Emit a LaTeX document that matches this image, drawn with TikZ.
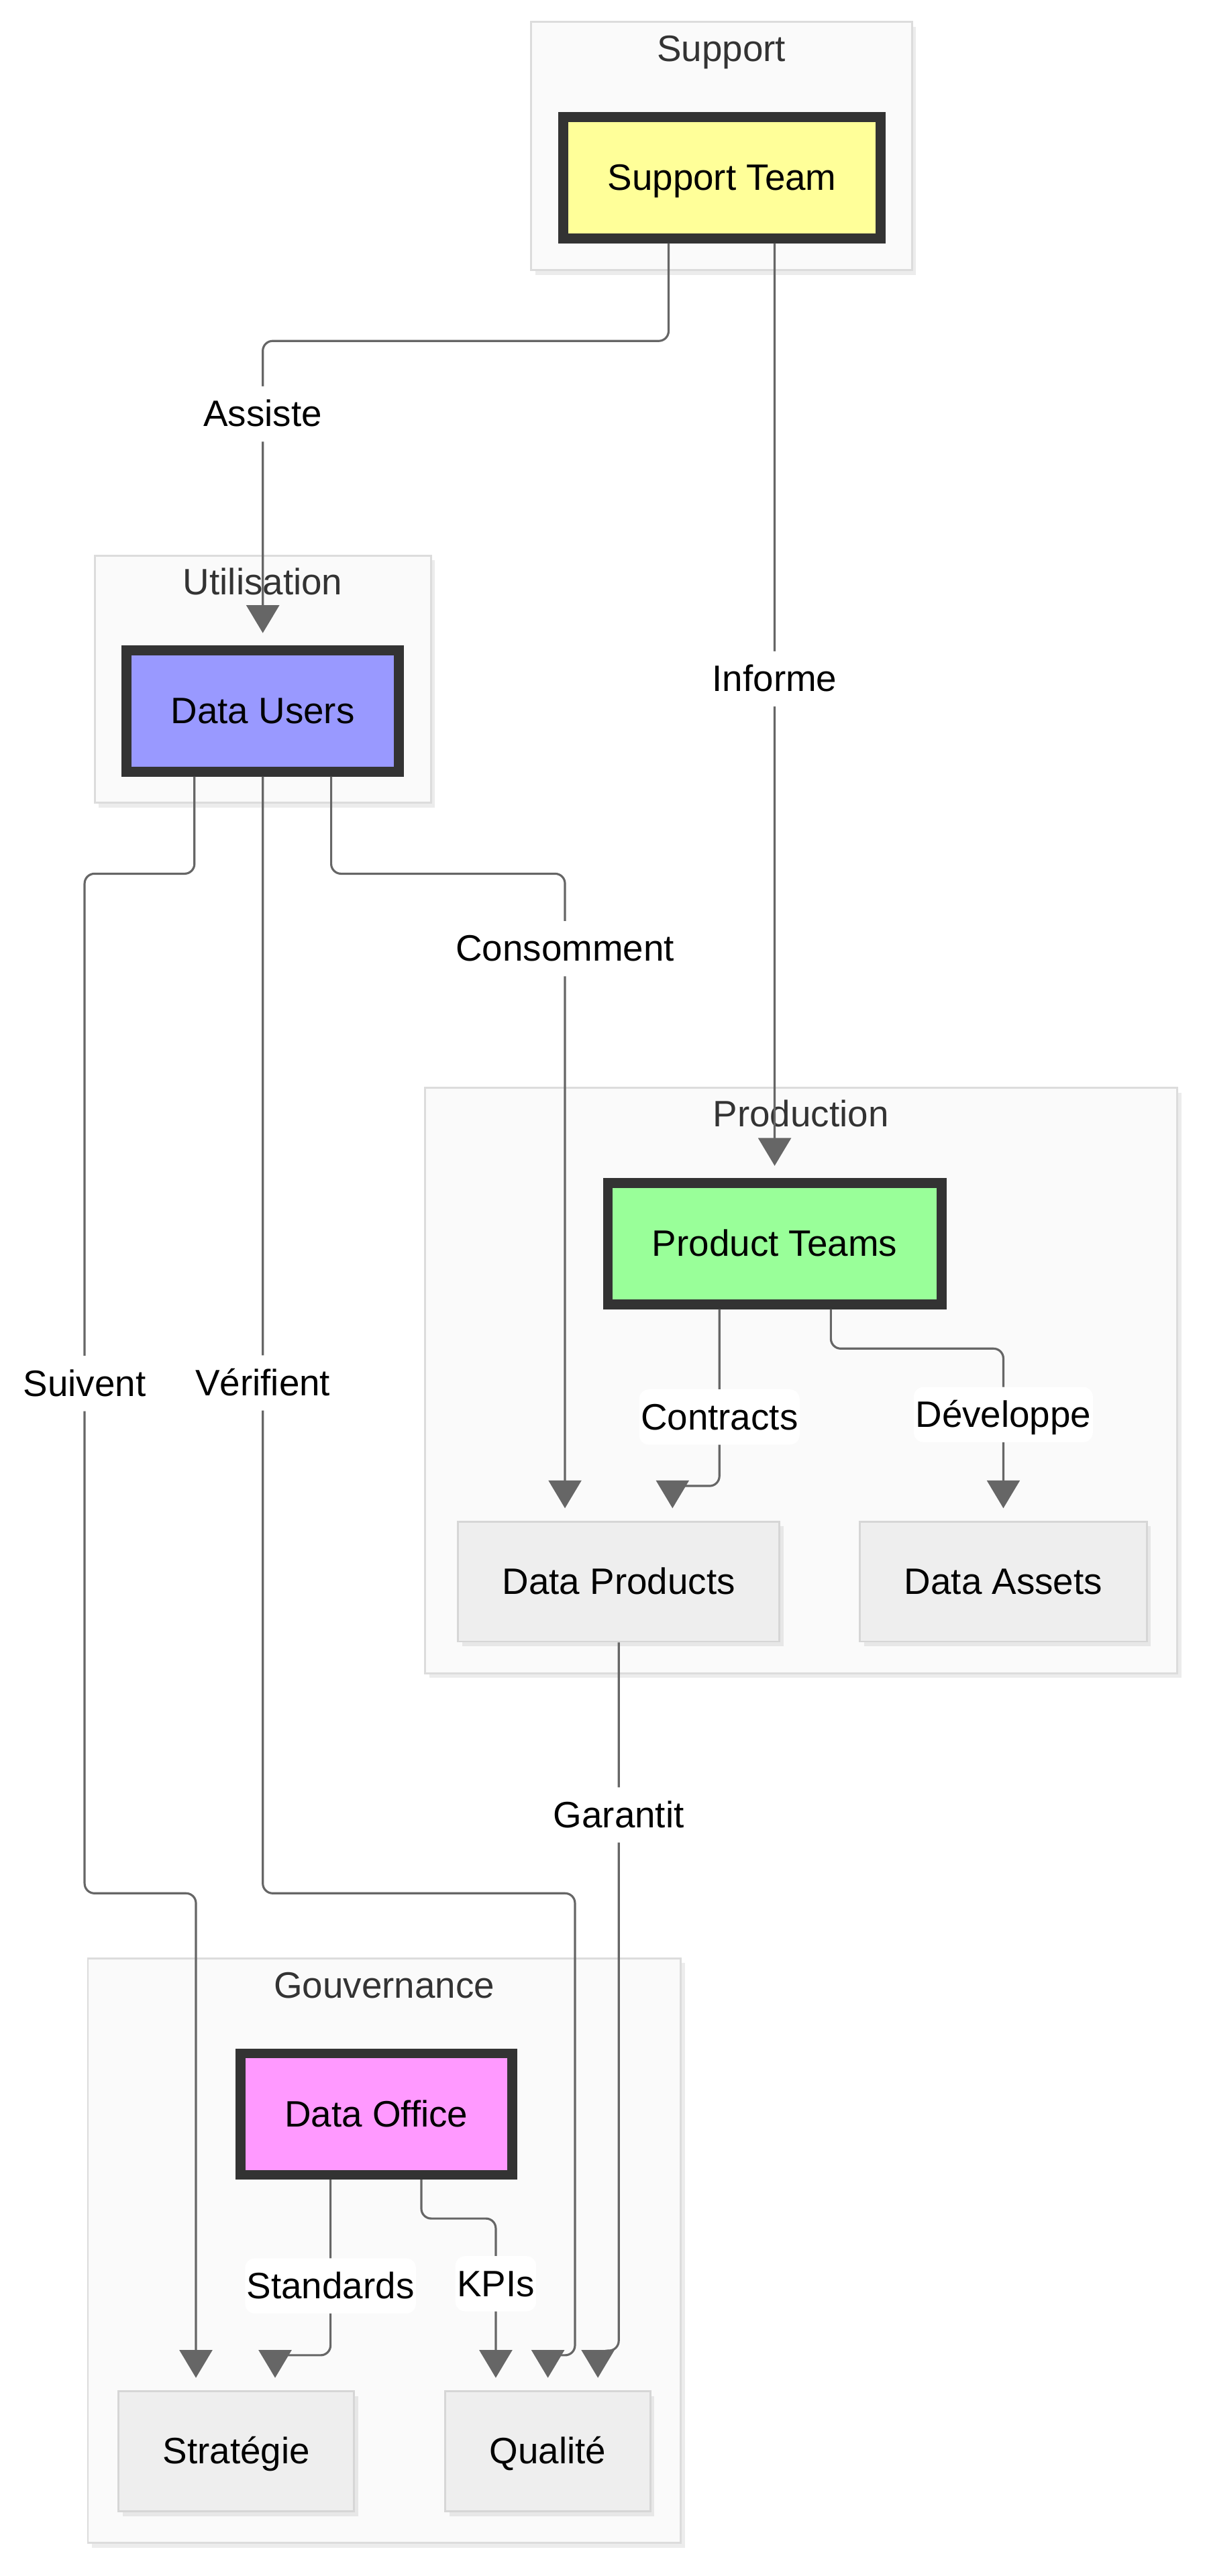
\documentclass[tikz,border=0pt]{standalone}
\usepackage{fontspec}
\setmainfont{Liberation Sans}
\usepackage{tikz}
\usetikzlibrary{calc,arrows.meta,shadows,positioning}

\definecolor{groupfill}{HTML}{FAFAFA}
\definecolor{groupline}{HTML}{DCDCDC}
\definecolor{titlegray}{HTML}{333333}
\definecolor{teamline}{HTML}{333333}
\definecolor{thingfill}{HTML}{EEEEEE}
\definecolor{thingline}{HTML}{D6D6D6}
\definecolor{flowgray}{HTML}{666666}
\definecolor{supyellow}{HTML}{FFFF99}
\definecolor{userblue}{HTML}{9999FF}
\definecolor{prodgreen}{HTML}{99FF99}
\definecolor{officepink}{HTML}{FF99FF}

\begin{document}
\begin{tikzpicture}[x=1bp,y=-1bp,>={Triangle[length=17bp,width=20bp]},
	every node/.style={font=\fontsize{22.5}{27}\selectfont},
	softshadow/.style={drop shadow={opacity=0.15,shadow xshift=2.5bp,shadow yshift=-3bp}},
	group/.style={draw=groupline,fill=groupfill,line width=1.2bp,inner sep=0pt,softshadow},
	grouptitle/.style={text=titlegray,inner sep=0pt,text height=18bp,text depth=2.7bp},
	team/.style={draw=teamline,line width=6bp,inner xsep=27bp,inner ysep=0pt,minimum height=74bp,text height=18bp,text depth=2.7bp,softshadow},
	thing/.style={draw=thingline,fill=thingfill,line width=1.2bp,inner xsep=27bp,inner ysep=0pt,minimum height=73.2bp,text height=18bp,text depth=2.7bp,softshadow},
	flow/.style={->,draw=flowgray,line width=1.3bp,rounded corners=6bp,shorten >=7.5bp},
	lbl/.style={fill=white,inner xsep=1bp,inner ysep=6.5bp,text height=18bp,text depth=2.7bp}]
	\useasboundingbox (0,0) rectangle (735,1571.5);

	\node (gsupport) at (440.15,88.95)  [group,minimum width=232.3bp,minimum height=151.5bp] {};
	\node (guse)     at (160.3,414.3)   [group,minimum width=205bp,minimum height=150.8bp] {};
	\node (gprod)    at (488.75,842.15) [group,minimum width=458.7bp,minimum height=357.1bp] {};
	\node (ggov)     at (234.4,1373)    [group,minimum width=361.6bp,minimum height=356.8bp] {};

	\node (tsupport) at (440,29.9)    [grouptitle] {Support};
	\node (tuse)     at (160.3,355.3) [grouptitle] {Utilisation};
	\node (tprod)    at (488.5,679.6) [grouptitle] {Production};
	\node (tgov)     at (234.4,1211.3)[grouptitle] {Gouvernance};

	\node (sup)     at (440.4,108.4)  [team,fill=supyellow]  {Support Team};
	\node (users)   at (160.3,433.7)  [team,fill=userblue]   {Data Users};
	\node (prod)    at (472.5,758.7)  [team,fill=prodgreen]  {Product Teams};
	\node (dprod)   at (377.4,964.8)  [thing]                {Data Products};
	\node (dassets) at (612,964.8)    [thing]                {Data Assets};
	\node (office)  at (229.5,1289.7) [team,fill=officepink] {Data Office};
	\node (strat)   at (144.2,1495.3) [thing]                {Stratégie};
	\node (qual)    at (334.2,1495.3) [thing]                {Qualité};

	\draw [flow] ([xshift=-32.6bp]sup.south) -- ++(0,59.6) -| node[lbl,pos=0.62] {Assiste} (users.north);
	\draw [flow] ([xshift=32.1bp]sup.south) -- node[lbl,pos=0.466] {Informe} (prod.north);
	\draw [flow] ([xshift=-41.7bp]users.south) -- ++(0,59.3) -- ++(-67,0) -- node[lbl] {Suivent} ++(0,622) -- ++(67.9,0) -- ([xshift=-24.7bp]strat.north);
	\draw [flow] (users.south) -- node[lbl,pos=0.543] {Vérifient} ++(0,681.3) -- ++(190.4,0) -- ++(0,281.8) -- ++(-16.5,0) -- (qual.north);
	\draw [flow] ([xshift=41.7bp]users.south) -- ++(0,59.3) -| node[lbl,pos=0.558] {Consomment} ([xshift=-32.8bp]dprod.north);
	\draw [flow] ([xshift=-33.7bp]prod.south) -- node[lbl,pos=0.61] {Contracts} ++(0,107.8) -| ([xshift=32.8bp]dprod.north);
	\draw [flow] ([xshift=34.3bp]prod.south) -- ++(0,24) -| node[lbl,pos=0.692] {Développe} (dassets.north);
	\draw [flow] (dprod.south) -- node[lbl,pos=0.2435] {Garantit} ++(0,432) -- ++(-12.7,0) -- ([xshift=30.5bp]qual.north);
	\draw [flow] ([xshift=-27.9bp]office.south) -- node[lbl,pos=0.605] {Standards} ++(0,107.1) -- ++(-33.8,0) -- ([xshift=23.6bp]strat.north);
	\draw [flow] ([xshift=27.5bp]office.south) -- ++(0,23.7) -| node[lbl,pos=0.69] {KPIs} ([xshift=-31.8bp]qual.north);
\end{tikzpicture}
\end{document}
